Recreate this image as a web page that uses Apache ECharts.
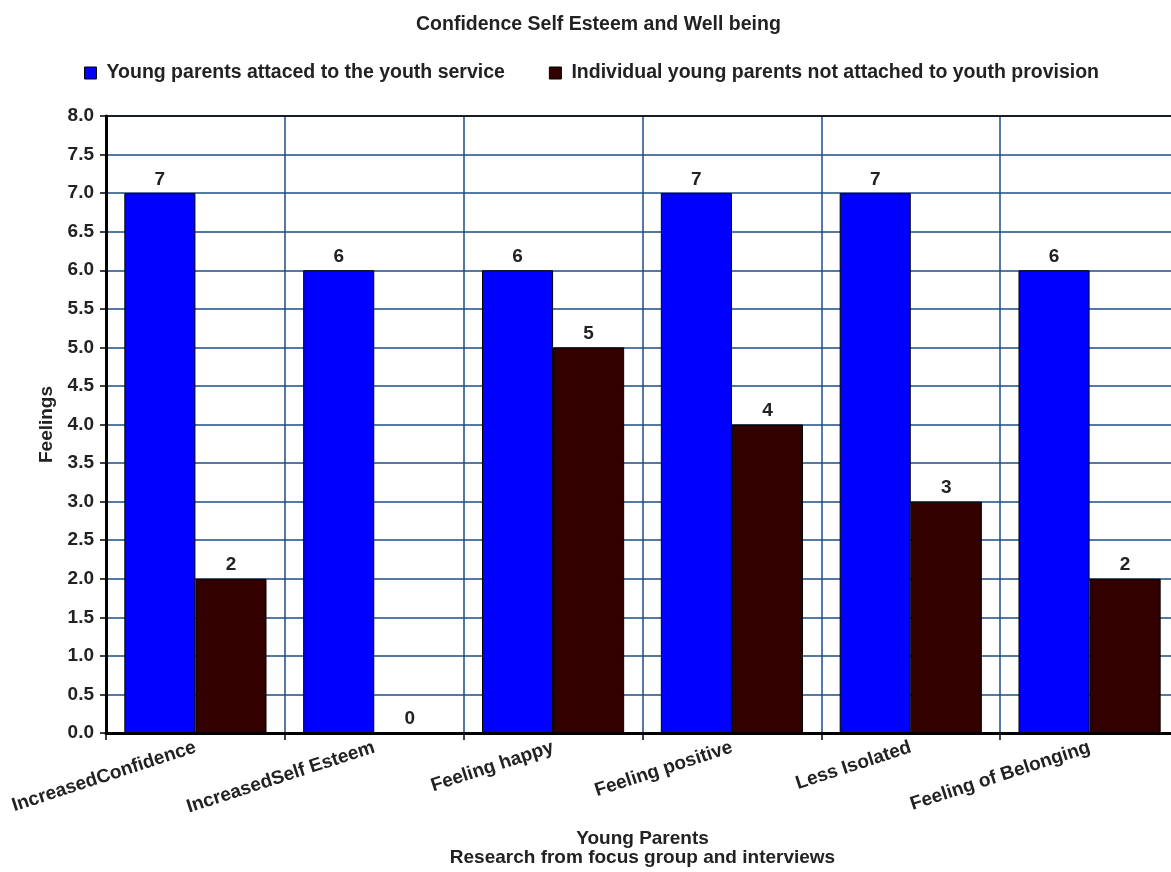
<!DOCTYPE html>
<html>
<head>
<meta charset="utf-8">
<script src="https://cdn.jsdelivr.net/npm/echarts@6/dist/echarts.min.js"></script>
<style>
html,body{margin:0;padding:0;background:#fff;}
#chart{width:1171px;height:872px;}
</style>
</head>
<body>
<div id="chart"></div>
<script>
var titleText = 'Confidence Self Esteem and Well being';
var categories = ['IncreasedConfidence', 'IncreasedSelf Esteem', 'Feeling happy', 'Feeling positive', 'Less Isolated', 'Feeling of Belonging'];
var seriesNames = ['Young parents attaced to the youth service', 'Individual young parents not attached to youth provision'];
var attached = [7, 6, 6, 7, 7, 6];
var notAttached = [2, 0, 5, 4, 3, 2];
var yName = 'Feelings';
var xName = 'Young Parents\nResearch from focus group and interviews';

var FONT = '"Liberation Sans", Arial, Helvetica, sans-serif';
var FS = 19.5;
var GRID_COLOR = '#1b4c86';
var chart = echarts.init(document.getElementById('chart'));

var labelStyle = {
  show: true, position: 'top', distance: 4,
  color: '#222', fontFamily: FONT, fontWeight: 'bold', fontSize: 19
};

chart.setOption({
  backgroundColor: '#fff',
  animation: false,
  title: {
    text: titleText, left: 411, top: 10,
    textStyle: { fontFamily: FONT, fontWeight: 'bold', fontSize: FS, color: '#222' }
  },
  legend: {
    left: 79, top: 58,
    icon: 'rect', itemWidth: 12, itemHeight: 12, itemGap: 44,
    itemStyle: { borderColor: '#000', borderWidth: 1 },
    textStyle: { fontFamily: FONT, fontWeight: 'bold', fontSize: FS, color: '#222', padding: [0, 0, 0, 5] },
    data: seriesNames
  },
  grid: { left: 106, top: 116, width: 1073, bottom: 139, containLabel: false, outerBoundsMode: 'none' },
  xAxis: [{
    type: 'category', data: categories, position: 'bottom',
    axisLine: { show: true, lineStyle: { color: '#000', width: 3 } },
    axisTick: { show: true, length: 7, lineStyle: { color: '#000', width: 1.5 } },
    axisLabel: {
      rotate: 18, margin: 14, interval: 0,
      fontFamily: FONT, fontWeight: 'bold', fontSize: 19, color: '#222'
    },
    splitLine: { show: true, interval: 0, lineStyle: { color: GRID_COLOR, width: 1.5 } },
    name: xName, nameLocation: 'middle', nameGap: 96,
    nameTextStyle: { fontFamily: FONT, fontWeight: 'bold', fontSize: 19, color: '#222', lineHeight: 19 }
  }, {
    type: 'category', data: categories, position: 'top',
    axisLine: { show: true, onZero: false, lineStyle: { color: '#000', width: 1.5 } },
    axisTick: { show: false }, axisLabel: { show: false }, splitLine: { show: false }
  }],
  yAxis: {
    type: 'value', min: 0, max: 8, interval: 0.5,
    axisLine: { show: true, lineStyle: { color: '#000', width: 3 } },
    axisTick: { show: true, length: 6, lineStyle: { color: '#000', width: 1.5 } },
    axisLabel: {
      margin: 12, fontFamily: FONT, fontWeight: 'bold', fontSize: 19, color: '#222',
      formatter: function (v) { return v.toFixed(1); }
    },
    splitLine: { show: true, lineStyle: { color: GRID_COLOR, width: 1.5 } },
    name: yName, nameLocation: 'middle', nameGap: 50, nameRotate: 90,
    nameTextStyle: { fontFamily: FONT, fontWeight: 'bold', fontSize: 19, color: '#222' }
  },
  series: [{
    name: seriesNames[0], type: 'bar', data: attached,
    barGap: '0%', barCategoryGap: '20.5%',
    itemStyle: { color: '#0000ff', borderColor: '#000', borderWidth: 1 },
    label: labelStyle
  }, {
    name: seriesNames[1], type: 'bar', data: notAttached,
    barGap: '0%', barCategoryGap: '20.5%',
    itemStyle: { color: '#330000', borderColor: '#000', borderWidth: 1 },
    label: labelStyle
  }]
});
</script>
</body>
</html>
